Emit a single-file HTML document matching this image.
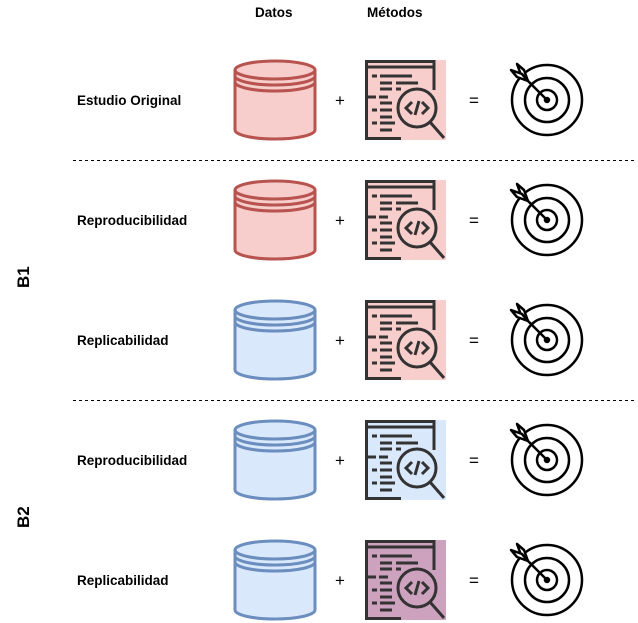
<!DOCTYPE html>
<html><head><meta charset="utf-8"><style>
body{margin:0;background:#fff;}
svg{display:block;font-family:"Liberation Sans",Arial,sans-serif;}
</style></head><body>
<svg width="638" height="623" viewBox="0 0 638 623">
<defs>
<g id="db" style="stroke:var(--s);stroke-width:3">
 <path d="M1,10 V70 A40,9 0 0 0 81,70 V10" style="fill:var(--f)"/>
 <ellipse cx="41" cy="10" rx="40" ry="9" style="fill:var(--f)"/>
 <path fill="none" d="M1,16 A40,9 0 0 0 81,16"/>
 <path fill="none" d="M1,22 A40,9 0 0 0 81,22"/>
</g>
<g id="m">
 <rect x="0" y="0" width="81" height="80" style="fill:var(--f)"/>
 <g fill="none" stroke="#333" stroke-width="3">
 <path d="M69,30 V1.5 H1.5 V78.5 H36"/>
 <path d="M1.5,7 H69"/>
 <path d="M7,16h5M15,16h32M15,23h12M31,23h22M15,29h12M31,29h5M3,37h8M14,37h9M15,43h12M7,50h5M15,50h12M15,57h12M7,63h5M15,63h15M15,70h12"/>
 <circle cx="52" cy="48" r="19"/>
 <path d="M65,62 L79,78"/>
 <path stroke-width="3" d="M47,42 L41,48 L47,54 M57,42 L63,48 L57,54 M54,41 L50,55"/>
 </g>
</g>
<g id="t" fill="none" stroke="#000" stroke-width="2.5" stroke-linejoin="round">
 <circle cx="0" cy="0" r="35"/>
 <circle cx="0" cy="0" r="22"/>
 <circle cx="0" cy="0" r="10"/>
 <circle cx="0" cy="0" r="2" fill="#000"/>
 <path d="M0,0 L-20,-20"/>
 <path fill="#fff" d="M-19,-19 L-23,-30 L-30,-36 L-26,-25 Z"/>
 <path fill="#fff" d="M-19,-19 L-30,-23 L-36,-30 L-25,-26 Z"/>
</g>
</defs>

<g font-weight="bold" font-size="13.5" fill="#000">
<text x="255" y="17">Datos</text>
<text x="367" y="17">Métodos</text>
<text x="77" y="105">Estudio Original</text>
<text x="77" y="225">Reproducibilidad</text>
<text x="77" y="345">Replicabilidad</text>
<text x="77" y="465">Reproducibilidad</text>
<text x="77" y="585">Replicabilidad</text>
<text font-size="17" transform="translate(29,288) rotate(-90)">B1</text>
<text font-size="17" transform="translate(29,528) rotate(-90)">B2</text>
</g>
<g font-size="17" fill="#000">
<text x="335" y="106">+</text><text x="335" y="226">+</text><text x="335" y="346">+</text><text x="335" y="466">+</text><text x="335" y="586">+</text>
<text x="469" y="106">=</text><text x="469" y="226">=</text><text x="469" y="346">=</text><text x="469" y="466">=</text><text x="469" y="586">=</text>
</g>
<path d="M73,160.5 H636 M73,400.5 H636" stroke="#000" stroke-dasharray="3,3" stroke-width="1"/>

<use href="#db" style="--s:#b85450;--f:#f8cecc" x="234" y="60"/>
<use href="#db" style="--s:#b85450;--f:#f8cecc" x="234" y="180"/>
<use href="#db" style="--s:#6c8ebf;--f:#dae8fc" x="234" y="300"/>
<use href="#db" style="--s:#6c8ebf;--f:#dae8fc" x="234" y="420"/>
<use href="#db" style="--s:#6c8ebf;--f:#dae8fc" x="234" y="540"/>

<use href="#m" style="--f:#f8cecc" x="365" y="60"/>
<use href="#m" style="--f:#f8cecc" x="365" y="180"/>
<use href="#m" style="--f:#f8cecc" x="365" y="300"/>
<use href="#m" style="--f:#dae8fc" x="365" y="420"/>
<use href="#m" style="--f:#cda2be" x="365" y="540"/>

<use href="#t" x="547" y="100"/>
<use href="#t" x="547" y="220"/>
<use href="#t" x="547" y="340"/>
<use href="#t" x="547" y="460"/>
<use href="#t" x="547" y="580"/>
</svg>
</body></html>
